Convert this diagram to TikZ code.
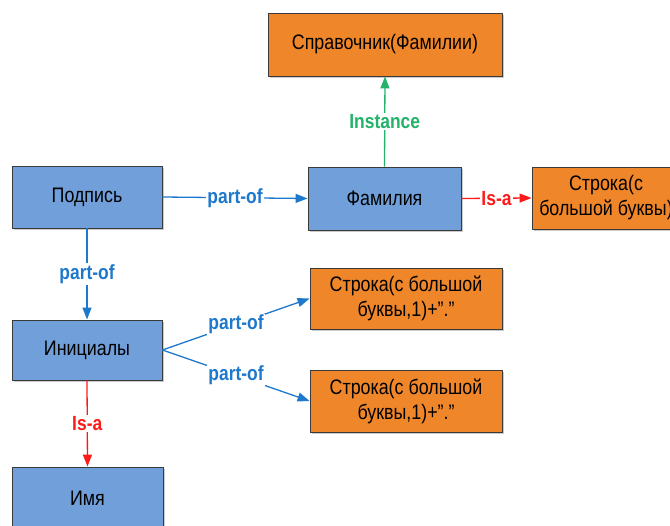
\documentclass[tikz,border=0pt]{standalone}
\usepackage{fontspec}
\setmainfont{Liberation Sans}[FakeStretch=0.85]
\usetikzlibrary{arrows.meta,shadows}
\definecolor{boxblue}{HTML}{709FDA}
\definecolor{boxorange}{HTML}{F0862A}
\definecolor{boxborder}{HTML}{3A3A3A}
\definecolor{linkblue}{HTML}{1E78CC}
\definecolor{linkgreen}{HTML}{22B26A}
\definecolor{linkred}{HTML}{FF1A1A}
\tikzset{
  box/.style={draw=boxborder, line width=0.9pt, inner sep=2pt, align=center,
    font=\fontsize{21}{25}\selectfont,
    drop shadow={shadow xshift=2pt, shadow yshift=-2pt, fill=black!35, opacity=0.6}},
  bluebox/.style={box, fill=boxblue},
  orangebox/.style={box, fill=boxorange},
  conn/.style={line width=1.3pt, -{Triangle[length=12pt,width=9pt]}},
  lbl/.style={fill=white, inner sep=1pt, font=\bfseries\fontsize{20.5}{22}\selectfont},
  partof/.style={conn, draw=linkblue},
  isa/.style={conn, draw=linkred},
  inst/.style={conn, draw=linkgreen}
}
\begin{document}
\begin{tikzpicture}[x=1pt,y=-1pt]
\useasboundingbox (0,0) rectangle (670,526);
\clip (0,0) rectangle (670,526);
\node[orangebox, minimum width=234pt, minimum height=63pt] (sprav) at (385,44.5) {Справочник(Фамилии)};
\node[bluebox, minimum width=150pt, minimum height=62pt] (podpis) at (87,197) {Подпись};
\node[bluebox, minimum width=153pt, minimum height=63pt] (fam) at (384.5,198.5) {Фамилия};
\node[orangebox, minimum width=148pt, minimum height=62pt] (strR) at (606,198) {Строка(с\\большой буквы)};
\node[bluebox, minimum width=150pt, minimum height=60pt] (ini) at (87,350) {Инициалы};
\node[orangebox, minimum width=192pt, minimum height=61pt] (str1) at (406,298.5) {Строка(с большой\\буквы,1)+”.”};
\node[orangebox, minimum width=192pt, minimum height=62pt] (str2) at (406,401) {Строка(с большой\\буквы,1)+”.”};
\node[bluebox, minimum width=151pt, minimum height=62pt] (imya) at (87.5,498) {Имя};

\draw[partof] (podpis.east) -- node[lbl, text=linkblue] {part-of} (fam.west);
\draw[partof] (podpis.south) -- node[lbl, text=linkblue] {part-of} (ini.north);
\draw[partof] (ini.east) -- node[lbl, text=linkblue] {part-of} (str1.west);
\draw[partof] (ini.east) -- node[lbl, text=linkblue] {part-of} (str2.west);
\draw[isa] (ini.south) -- node[lbl, text=linkred] {Is-a} (imya.north);
\draw[isa] (fam.east) -- node[lbl, text=linkred] {Is-a} (strR.west);
\draw[inst] (fam.north) -- node[lbl, text=linkgreen] {Instance} (sprav.south);
\end{tikzpicture}
\end{document}
